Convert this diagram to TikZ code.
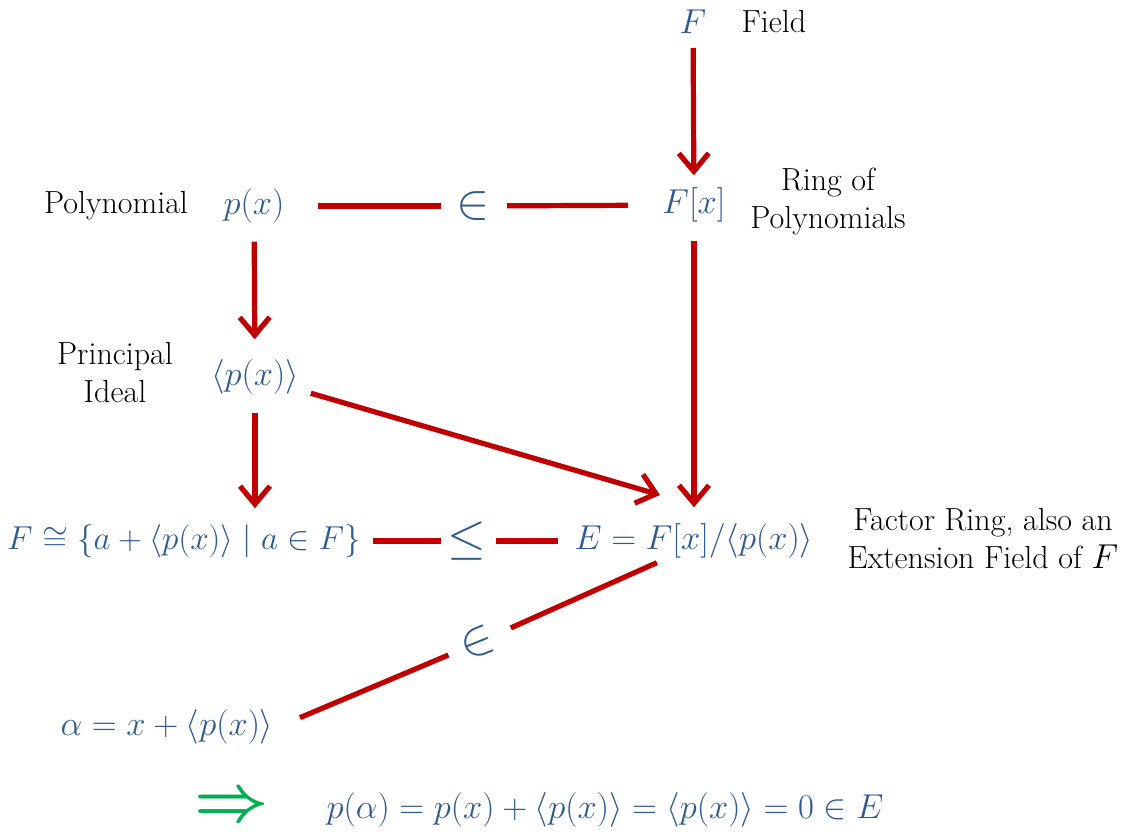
\documentclass[tikz,border=0pt]{standalone}
\usepackage{amsmath,amssymb}
\usepackage{xcolor}
\usepackage{tikz}
\usetikzlibrary{arrows.meta,calc}
\definecolor{mapred}{HTML}{C00000}
\definecolor{mathblue}{HTML}{2F5B8F}
\definecolor{impgreen}{HTML}{00B050}

\begin{document}
\begin{tikzpicture}[x=0.5pt,y=-0.5pt,font=\fontsize{16}{19}\selectfont,>={Straight Barb[length=9pt,width=15pt]}]
\tikzset{mth/.style={text=mathblue,inner sep=2pt,font=\fontsize{18}{19}\selectfont}, lbl/.style={align=center,inner sep=1pt}, rel/.style={text=mathblue,inner sep=1pt,font=\fontsize{24}{24}\selectfont}, arr/.style={->,draw=mapred,line width=2.6pt}, link/.style={draw=mapred,line width=2.6pt}}
\useasboundingbox (0,0) rectangle (1130,834);
\node[mth] (fld) at (693,22) {$F$};
\node[lbl] (fldlbl) at (774,22) {Field};
\node[mth] (ring) at (694,205) {$F[x]$};
\node[lbl] (ringlbl) at (828,202) {Ring of\\Polynomials};
\node[mth] (poly) at (254,206) {$p(x)$};
\node[lbl] (polylbl) at (116,206) {Polynomial};
\node[mth] (ideal) at (255,377) {$\langle p(x)\rangle$};
\node[lbl] (ideallbl) at (115,373) {Principal\\Ideal};
\node[mth,scale=0.96] (base) at (184,541) {$F\cong\{a+\langle p(x)\rangle\mid a\in F\}$};
\node[mth] (ext) at (694,541) {$E=F[x]/\langle p(x)\rangle$};
\node[lbl] (extlbl) at (983,539) {Factor Ring, also an\\Extension Field of $F$};
\node[mth] (alpha) at (167,727) {$\alpha=x+\langle p(x)\rangle$};
\node[rel] (mem1) at (473,206) {$\in$};
\node[rel] (leq) at (467,541) {$\leq$};
\node[rel,rotate=22] (mem2) at (477,643) {$\in$};
\node[text=impgreen,font=\fontsize{24}{24}\selectfont,scale=1.3] (impl) at (232,808) {$\boldsymbol{\Rightarrow}$};
\node[mth] (res) at (605,810) {$p(\alpha)=p(x)+\langle p(x)\rangle=\langle p(x)\rangle=0\in E$};
\coordinate (tip) at (660,495);
% vertical maps
\draw[arr,shorten <=5pt,shorten >=4pt] (fld) -- (ring);
\draw[arr,shorten <=7pt,shorten >=8pt] (poly) -- (ideal);
\draw[arr,shorten <=7pt,shorten >=6pt] (ideal) -- (base.north -| ideal);
\draw[arr,shorten <=7pt,shorten >=6pt] (ring) -- (ext);
\draw[arr,shorten <=4pt] (ideal) -- (tip);
% relations
\draw[link,shorten <=14.5pt,shorten >=6.5pt] (poly) -- (mem1);
\draw[link,shorten <=7.5pt,shorten >=15pt] (mem1) -- (ring);
\draw[link,shorten <=4pt,shorten >=2pt] (base) -- (leq);
\draw[link,shorten <=3.5pt,shorten >=6pt] (leq) -- (ext);
\draw[link,shorten >=9pt] ($(ext.south)!0.3!(ext.south west)$) -- (mem2);
\draw[link,shorten <=6pt,shorten >=12pt] (mem2) -- (alpha.east);
\end{tikzpicture}
\end{document}
